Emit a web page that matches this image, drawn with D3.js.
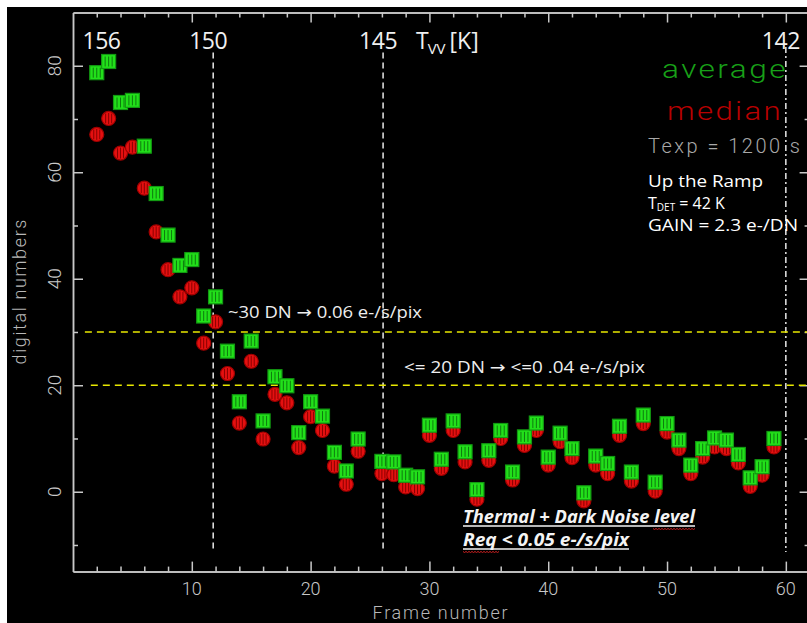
<!DOCTYPE html>
<html>
<head>
<meta charset="utf-8">
<script src="https://cdn.jsdelivr.net/npm/d3@7"></script>
<style>
  html, body { margin: 0; padding: 0; background: #ffffff; }
  svg { display: block; }
</style>
</head>
<body>
<svg id="chart" width="807" height="623"></svg>
<script>
// Frame numbers of the up-the-ramp sequence (frame 25 has no reading)
const frames = d3.range(2, 60);

// Average signal per frame [DN]
const averageDN = [
  78.7, 80.8, 73.1, 73.5, 64.9, 56.0, 48.2, 42.5, 43.6, 33.0,
  36.6, 26.4, 16.9, 28.3, 13.3, 21.6, 19.9, 11.1, 16.9, 14.2,
   7.4,  3.9,  9.9, null, 5.7,  5.6,  3.1,  2.8, 12.5,  6.1,
  13.3,  7.5,  0.4,  7.7, 11.5,  3.7, 10.3, 12.9,  6.5, 11.0,
   8.1, -0.2,  6.7,  5.3, 12.3,  3.7, 14.4,  1.8, 12.8,  9.7,
   5.0,  8.1, 10.1,  9.7,  7.0,  2.6,  4.7, 10.0
];

// Median signal per frame [DN]
const medianDN = [
  67.1, 70.1, 63.6, 64.7, 57.0, 48.8, 41.7, 36.6, 38.3, 27.9,
  31.9, 22.2, 12.9, 24.5,  9.9, 18.3, 16.7,  8.3, 14.1, 11.5,
   4.8,  1.4,  7.6, null, 3.4,  3.2,  0.9,  0.6, 10.6,  4.4,
  11.5,  5.6, -1.4,  5.9, 10.0,  2.2,  8.7, 11.5,  5.0,  9.4,
   6.4, -1.7,  5.0,  3.4, 10.6,  2.0, 12.8,  0.1, 11.2,  8.1,
   3.4,  6.5,  8.4,  8.1,  5.4,  1.0,  3.1,  8.4
];

// Axis ticks
const xMajorTicks = [10, 20, 30, 40, 50, 60];
const xMinorTicks = d3.range(2, 62, 2).filter(d => d % 10 !== 0);
const yMajorTicks = [0, 20, 40, 60, 80];
const yMinorTicks = [-10, 10, 30, 50, 70];

// Vacuum-vessel temperature marks along the top, at the frame where reached
const tempLabels = ["156", "150", "145", "142"];
const tempFrames = [2.4, 11.8, 26.1, 60];

// Dark-current thresholds [DN]
const thresholdDN = [30, 20];
const thresholdStart = [1, 1.5];
const thresholdText = ["~30 DN \u2192 0.06 e-/s/pix", "<= 20 DN \u2192 <=0 .04 e-/s/pix"];

const svg = d3.select("#chart");

// Dark panel
svg.append("rect").attr("x", 7).attr("y", 7).attr("width", 800).attr("height", 616).attr("fill", "#000");

const x = d3.scaleLinear().domain([0, 62]).range([73, 809.6]);
const y = d3.scaleLinear().domain([-15, 90]).range([571.6, 12.5]);

const axisColor = "#c8c8c8";
const hershey = "Roboto, 'DejaVu Sans', sans-serif";
const gothic = "'Open Sans', 'DejaVu Sans', sans-serif";

function styleAxis(g) {
  g.selectAll("path.domain").attr("stroke", axisColor).attr("stroke-width", 1.5);
  g.selectAll(".tick line").attr("stroke", axisColor).attr("stroke-width", 1.5);
  g.selectAll(".tick text").remove();
}

// Box axes with inward ticks
[[d3.axisBottom, `translate(0,${y(-15)})`, x, xMajorTicks, xMinorTicks],
 [d3.axisTop, `translate(0,${y(90)})`, x, xMajorTicks, xMinorTicks],
 [d3.axisLeft, `translate(${x(0)},0)`, y, yMajorTicks, yMinorTicks],
 [d3.axisRight, `translate(${x(62)},0)`, y, yMajorTicks, yMinorTicks]
].forEach(([fn, tr, sc, major, minor]) => {
  svg.append("g").attr("transform", tr)
    .call(fn(sc).tickValues(major).tickSizeInner(-10).tickSizeOuter(0)).call(styleAxis);
  svg.append("g").attr("transform", tr)
    .call(fn(sc).tickValues(minor).tickSizeInner(-5).tickSizeOuter(0)).call(styleAxis);
});

// Bottom tick labels
svg.append("g").selectAll("text").data(xMajorTicks).join("text")
  .attr("x", d => x(d)).attr("y", 595)
  .attr("text-anchor", "middle")
  .attr("font-family", hershey).attr("font-weight", 300).attr("font-size", 18)
  .attr("fill", "#c8c8c8")
  .text(d => d);

// Left tick labels, rotated
svg.append("g").selectAll("text").data(yMajorTicks).join("text")
  .attr("transform", d => `translate(61,${y(d)}) rotate(-90)`)
  .attr("text-anchor", "middle")
  .attr("font-family", hershey).attr("font-weight", 300).attr("font-size", 19)
  .attr("fill", "#c8c8c8")
  .text(d => d);

// Axis titles
svg.append("text")
  .attr("x", 440).attr("y", 619)
  .attr("text-anchor", "middle")
  .attr("font-family", hershey).attr("font-weight", 300).attr("font-size", 18)
  .attr("fill", "#b8b8b8")
  .attr("textLength", 135).attr("lengthAdjust", "spacing")
  .text("Frame number");

svg.append("text")
  .attr("transform", "translate(26,292) rotate(-90)")
  .attr("text-anchor", "middle")
  .attr("font-family", hershey).attr("font-weight", 300).attr("font-size", 18)
  .attr("fill", "#b8b8b8")
  .attr("textLength", 145).attr("lengthAdjust", "spacing")
  .text("digital numbers");

// Temperature marker lines
const tempLines = svg.append("g");
tempFrames.slice(1).forEach((f, i) => {
  tempLines.append("line")
    .attr("x1", x(f)).attr("x2", x(f))
    .attr("y1", i === 2 ? y(83.5) : y(82.5)).attr("y2", y(-11.3))
    .attr("stroke", "#e8e8e8").attr("stroke-width", 1.5)
    .attr("stroke-dasharray", i === 2 ? "6,3,2,3" : "6,4");
});

// Threshold lines
thresholdDN.forEach((v, i) => {
  svg.append("line")
    .attr("x1", x(thresholdStart[i])).attr("x2", x(62))
    .attr("y1", y(v)).attr("y2", y(v))
    .attr("stroke", "#e8e800").attr("stroke-width", 1.6)
    .attr("stroke-dasharray", "7,5");
});

// Temperature labels along the top
svg.append("g").selectAll("text").data(tempLabels).join("text")
  .attr("x", (d, i) => x(tempFrames[i]) - (i === 0 ? 0 : 5))
  .attr("y", 49)
  .attr("text-anchor", "middle")
  .attr("font-family", gothic).attr("font-size", 23)
  .attr("fill", "#f0f0f0")
  .attr("letter-spacing", -0.5)
  .text(d => d);

const tvv = svg.append("text")
  .attr("x", 416).attr("y", 49)
  .attr("font-family", gothic).attr("font-size", 23)
  .attr("fill", "#f0f0f0");
tvv.append("tspan").text("T");
tvv.append("tspan").attr("dy", 5).attr("font-size", 15).attr("dx", -1).text("VV");
tvv.append("tspan").attr("dy", -5).attr("dx", 4).text("[K]");

// Data markers: median circles underneath, averages on top
const pts = frames.map((f, i) => ({ f, avg: averageDN[i], med: medianDN[i] }));
const r = 7;

const medG = svg.append("g").selectAll("g")
  .data(pts.filter(d => d.med !== null)).join("g")
  .attr("transform", d => `translate(${x(d.f)},${y(d.med)})`);
medG.append("circle").attr("r", r)
  .attr("fill", "#e41010").attr("stroke", "#a00000").attr("stroke-width", 1.2);
[-3, 0, 3].forEach(dx => {
  medG.append("line")
    .attr("x1", dx).attr("x2", dx)
    .attr("y1", -Math.sqrt(r * r - dx * dx) + 1.5).attr("y2", Math.sqrt(r * r - dx * dx) - 1.5)
    .attr("stroke", "#8a0000").attr("stroke-width", 1);
});

const avgG = svg.append("g").selectAll("g")
  .data(pts.filter(d => d.avg !== null)).join("g")
  .attr("transform", d => `translate(${x(d.f)},${y(d.avg)})`);
avgG.append("rect").attr("x", -r).attr("y", -r).attr("width", 2 * r).attr("height", 2 * r)
  .attr("fill", "#22e01a").attr("stroke", "#129a12").attr("stroke-width", 1.2);
[-3.5, 0, 3.5].forEach(dx => {
  avgG.append("line")
    .attr("x1", dx).attr("x2", dx)
    .attr("y1", -r + 2).attr("y2", r - 2)
    .attr("stroke", "#0e7a0e").attr("stroke-width", 1);
});

// Legend and acquisition info
svg.append("text").attr("x", 662).attr("y", 78)
  .attr("font-family", hershey).attr("font-weight", 300).attr("font-size", 26)
  .attr("fill", "#18a018").attr("letter-spacing", 2)
  .attr("textLength", 126).attr("lengthAdjust", "spacingAndGlyphs")
  .text("average");
svg.append("text").attr("x", 667).attr("y", 120)
  .attr("font-family", hershey).attr("font-weight", 300).attr("font-size", 26)
  .attr("fill", "#b80000").attr("letter-spacing", 2)
  .attr("textLength", 116).attr("lengthAdjust", "spacingAndGlyphs")
  .text("median");
svg.append("text").attr("x", 648).attr("y", 153)
  .attr("font-family", hershey).attr("font-weight", 300).attr("font-size", 20)
  .attr("fill", "#a8a8a8")
  .attr("textLength", 152).attr("lengthAdjust", "spacing")
  .text("Texp = 1200 s");

const info = svg.append("g")
  .attr("font-family", gothic).attr("font-size", 16).attr("fill", "#ffffff");
info.append("text").attr("x", 648).attr("y", 187)
  .attr("textLength", 115).attr("lengthAdjust", "spacingAndGlyphs")
  .text("Up the Ramp");
const tdet = info.append("text").attr("x", 648).attr("y", 209);
tdet.append("tspan").text("T");
tdet.append("tspan").attr("dy", 2).attr("font-size", 10).text("DET");
tdet.append("tspan").attr("dy", -2).text(" = 42 K");
info.append("text").attr("x", 648).attr("y", 231)
  .attr("textLength", 150).attr("lengthAdjust", "spacingAndGlyphs")
  .text("GAIN = 2.3 e-/DN");

// Threshold annotations
const annX = [228, 404];
const annY = [318, 373];
const annW = [194, 241];
thresholdText.forEach((t, i) => {
  svg.append("text").attr("x", annX[i]).attr("y", annY[i])
    .attr("font-family", gothic).attr("font-size", 16).attr("fill", "#eeeeee")
    .attr("textLength", annW[i]).attr("lengthAdjust", "spacingAndGlyphs")
    .text(t);
});

// Noise requirement note
const noteLines = ["Thermal + Dark Noise level", "Req < 0.05 e-/s/pix"];
const noteY = [523, 546];
const noteW = [232, 166];
noteLines.forEach((t, i) => {
  svg.append("text").attr("x", 463).attr("y", noteY[i])
    .attr("font-family", gothic).attr("font-size", 17)
    .attr("font-weight", 700).attr("font-style", "italic")
    .attr("fill", "#f4f4f4")
    .attr("textLength", noteW[i]).attr("lengthAdjust", "spacingAndGlyphs")
    .text(t);
  svg.append("line")
    .attr("x1", 463).attr("x2", 463 + noteW[i])
    .attr("y1", noteY[i] + 3).attr("y2", noteY[i] + 3)
    .attr("stroke", "#f4f4f4").attr("stroke-width", 1.3);
});
// Wavy proofing underlines under "level" and "Req"
[[653, 695, 528.5], [463, 500, 551.5]].forEach(([x0, x1, yy]) => {
  const pts2 = d3.range(x0, x1 + 0.1, 1.5).map((px, k) => [px, yy + (k % 2 ? 1 : 0)]);
  svg.append("path").attr("d", d3.line()(pts2))
    .attr("fill", "none").attr("stroke", "#d02020").attr("stroke-width", 1);
});
</script>
</body>
</html>
